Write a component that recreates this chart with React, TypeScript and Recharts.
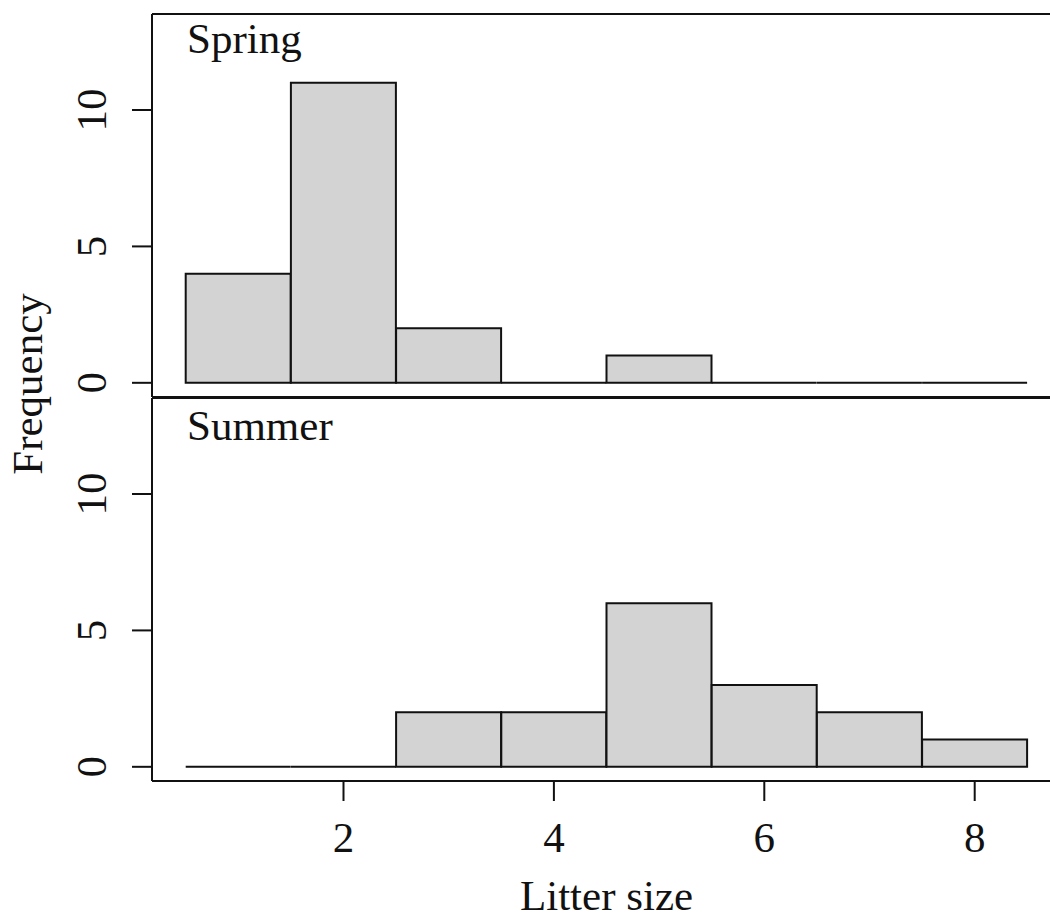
import { BarChart, Bar, XAxis, YAxis } from 'recharts'

// litter size bins (centres) and counts per season
const sizes = [1, 2, 3, 4, 5, 6, 7, 8]
const spring = [4, 11, 2, 0, 1, 0, 0, 0]
const summer = [0, 0, 2, 2, 6, 3, 2, 1]
const xTicks = [2, 4, 6, 8]
const yTicks = [0, 5, 10]
const yDomain = [-0.52, 13.52]

const springData = sizes.map((s, i) => ({ size: s, count: spring[i] }))
const summerData = sizes.map((s, i) => ({ size: s, count: summer[i] }))

const FONT = '"Liberation Serif", "Times New Roman", Times, serif'
const INK = '#111'
const FILL = '#d3d3d3'
const FS = 43
const PAD = { left: 33.7, right: 33.7 }

// R draws empty bins as flat rects, so keep a path even when height is 0
const HistBar = (p: any) => {
  const { x, y, width, height } = p
  return <path d={`M${x},${y}h${width}v${height}h${-width}Z`} fill={FILL} stroke={INK} strokeWidth={2} />
}

const YTick = ({ x, y, payload }: any) => (
  <text x={x} y={y} transform={`rotate(-90 ${x} ${y})`} textAnchor="middle" fontFamily={FONT} fontSize={FS} fill={INK}>
    {payload.value}
  </text>
)

const XTick = ({ x, y, payload }: any) => (
  <text x={x} y={y} dy="0.71em" textAnchor="middle" fontFamily={FONT} fontSize={FS} fill={INK}>
    {payload.value}
  </text>
)

const line = { stroke: INK, strokeWidth: 2 }

function Panel({ data, bottomAxis }: { data: { size: number; count: number }[]; bottomAxis: boolean }) {
  return (
    <BarChart
      width={1061}
      height={bottomAxis ? 534 : 398}
      data={data}
      margin={{ top: 13, right: 0, left: 0, bottom: 0 }}
      barCategoryGap={0}
      barGap={0}
    >
      <XAxis xAxisId="top" orientation="top" dataKey="size" height={1} padding={PAD} tick={false} tickLine={false} axisLine={line} />
      {bottomAxis ? (
        <XAxis
          dataKey="size"
          height={137}
          padding={PAD}
          ticks={xTicks}
          tick={<XTick />}
          tickSize={20}
          tickMargin={20}
          tickLine={line}
          axisLine={line}
          label={{ value: 'Litter size', position: 'insideBottom', offset: 8, fontFamily: FONT, fontSize: FS, fill: INK }}
        />
      ) : (
        <XAxis dataKey="size" height={1} padding={PAD} tick={false} tickLine={false} axisLine={line} />
      )}
      <YAxis
        width={152}
        type="number"
        domain={yDomain}
        allowDataOverflow
        ticks={yTicks}
        tick={<YTick />}
        tickSize={20}
        tickMargin={26}
        tickLine={line}
        axisLine={line}
      />
      <Bar dataKey="count" shape={<HistBar />} isAnimationActive={false} />
    </BarChart>
  )
}

export default function App() {
  return (
    <div style={{ position: 'fixed', left: 0, top: 0, width: 1050, height: 918, overflow: 'hidden', background: '#fff' }}>
      <div style={{ position: 'absolute', left: 0, top: 0 }}>
        <Panel data={springData} bottomAxis={false} />
      </div>
      <div style={{ position: 'absolute', left: 0, top: 384 }}>
        <Panel data={summerData} bottomAxis />
      </div>
      <svg width={1050} height={918} style={{ position: 'absolute', left: 0, top: 0, pointerEvents: 'none' }}>
        <g fontFamily={FONT} fontSize={FS} fill={INK}>
          <text x={187} y={53}>Spring</text>
          <text x={187} y={440}>Summer</text>
          <text x={42} y={384} transform="rotate(-90 42 384)" textAnchor="middle">Frequency</text>
        </g>
      </svg>
    </div>
  )
}
